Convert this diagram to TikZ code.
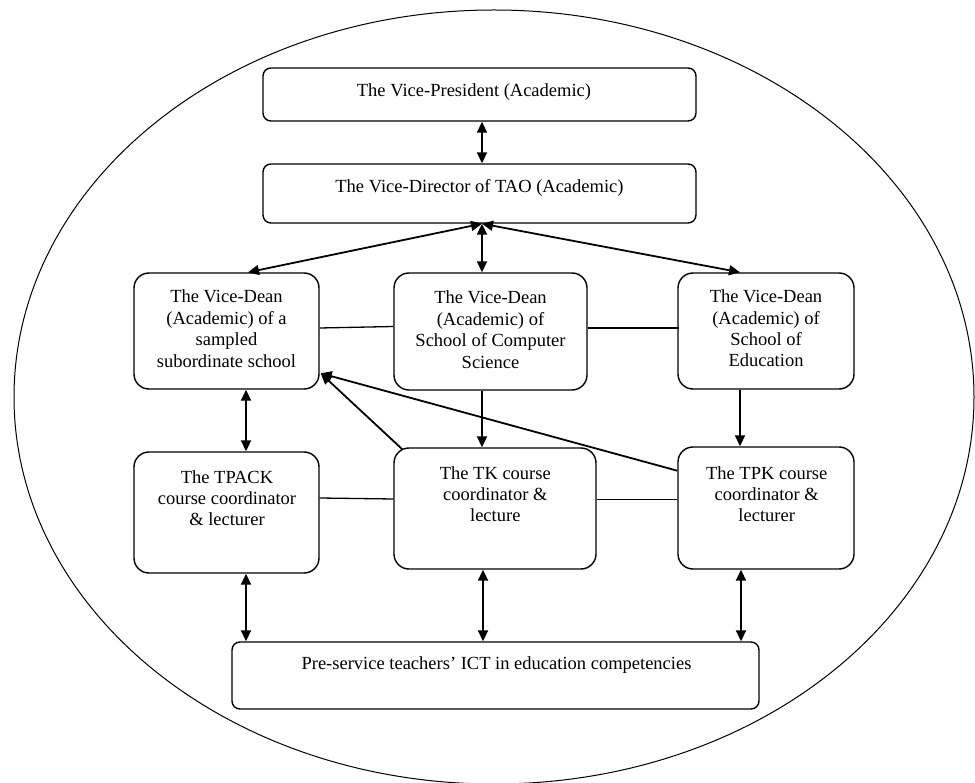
\documentclass[tikz,border=0pt]{standalone}
\usepackage{fontspec}
\setmainfont{Liberation Serif}
\usetikzlibrary{arrows.meta,calc}
\begin{document}
\begin{tikzpicture}[x=1pt,y=-1pt,
  box/.style={draw, line width=1.4pt, rounded corners=15pt, inner sep=0pt},
  wbox/.style={draw, line width=1.4pt, rounded corners=8pt, inner sep=0pt},
  txt/.style={inner sep=0pt, align=center, font=\fontsize{18.5}{21.4}\selectfont},
  tip/.style={Triangle[length=11pt,width=10pt]},
  dbl/.style={line width=1.8pt, {Triangle[length=11pt,width=10pt]}-{Triangle[length=11pt,width=10pt]}},
  sgl/.style={line width=1.8pt, -{Triangle[length=11pt,width=10pt]}},
  lnk/.style={line width=1.3pt}]
\useasboundingbox (0,0) rectangle (975,783);
\draw[line width=1pt] (494,397) ellipse [x radius=480, y radius=387];

% boxes
\node[wbox, minimum width=433pt, minimum height=53pt] (vp) at (479.5,94.5) {};
\node[wbox, minimum width=433pt, minimum height=59pt] (vd) at (479.5,193.5) {};
\node[box, minimum width=185pt, minimum height=116pt] (vdl) at (226.5,331) {};
\node[box, minimum width=193pt, minimum height=117pt] (vdcs) at (490.5,331.5) {};
\node[box, minimum width=176pt, minimum height=116pt] (vde) at (766,331) {};
\node[box, minimum width=185pt, minimum height=121pt] (tpack) at (226.5,512.5) {};
\node[box, minimum width=202pt, minimum height=121pt] (tk) at (495,508.5) {};
\node[box, minimum width=176pt, minimum height=122pt] (tpk) at (766,508) {};
\node[wbox, minimum width=527pt, minimum height=67pt] (ps) at (495.5,675.5) {};

% texts
\node[txt] (vp-t) at (474,92.3) {The Vice-President (Academic)};
\node[txt] (vd-t) at (479.5,188.3) {The Vice-Director of TAO (Academic)};
\node[txt] (vdl-t) at (226.5,328.7) {The Vice-Dean\\(Academic) of a\\sampled\\subordinate school};
\node[txt] (vdcs-t) at (490.5,329.7) {The Vice-Dean\\(Academic) of\\School of Computer\\Science};
\node[txt] (vde-t) at (766,328.5) {The Vice-Dean\\(Academic) of\\School of\\Education};
\node[txt] (tpack-t) at (227,498.2) {The TPACK\\course coordinator\\\& lecturer};
\node[txt] (tk-t) at (495.3,494.2) {The TK course\\coordinator \&\\lecture};
\node[txt] (tpk-t) at (766.7,494.2) {The TPK course\\coordinator \&\\lecturer};
\node[txt] (ps-t) at (496.5,665) {Pre-service teachers’ ICT in education competencies};

% connectors
\draw[dbl] ($(vp.south)+(2.5,0)$) -- ($(vd.north)+(2.5,0)$);
\draw[dbl] ($(vd.south)+(2.5,0)$) -- ($(vdl.north)+(21.5,0)$);
\draw[dbl] ($(vd.south)+(2.5,0)$) -- ($(vdcs.north)+(-8.5,0)$);
\draw[dbl] ($(vd.south)+(2.5,0)$) -- ($(vde.north)+(-26,0)$);

\draw[lnk] ($(vdl.east)+(0,-3)$) -- ($(vdcs.west)+(0,-5)$);
\draw[lnk] ($(vdcs.east)+(0,-3.5)$) -- ($(vde.east)+(-176,-3)$);

\draw[dbl] ($(vdl.south)+(19.5,0)$) -- ($(tpack.north)+(19.5,0)$);
\draw[sgl] ($(vdcs.south)+(-8.5,0)$) -- ($(tk.north)+(-13,0)$);
\draw[sgl] ($(vde.south)+(-26,0)$) -- ($(tpk.north)+(-26,0)$);

\coordinate (hit) at ($(vdl.east)+(1,42.3)$);
\draw[sgl] ($(tk.north west)+(9,2)$) -- (hit);
\draw[sgl] ($(tpk.west)+(0,-37.3)$) -- (hit);

\draw[lnk] ($(tpack.east)+(0,-14.5)$) -- ($(tk.west)+(0,-9.5)$);
\draw[lnk] ($(tk.east)+(0,-9.2)$) -- ($(tpk.west)+(0,-8.7)$);

\draw[dbl] ($(tpack.south)+(19.5,0)$) -- ($(ps.north)+(-249.5,0)$);
\draw[dbl] ($(tk.south)+(-12,0)$) -- ($(ps.north)+(-12.5,0)$);
\draw[dbl] ($(tpk.south)+(-25,0)$) -- ($(ps.north)+(245.5,0)$);
\end{tikzpicture}
\end{document}
